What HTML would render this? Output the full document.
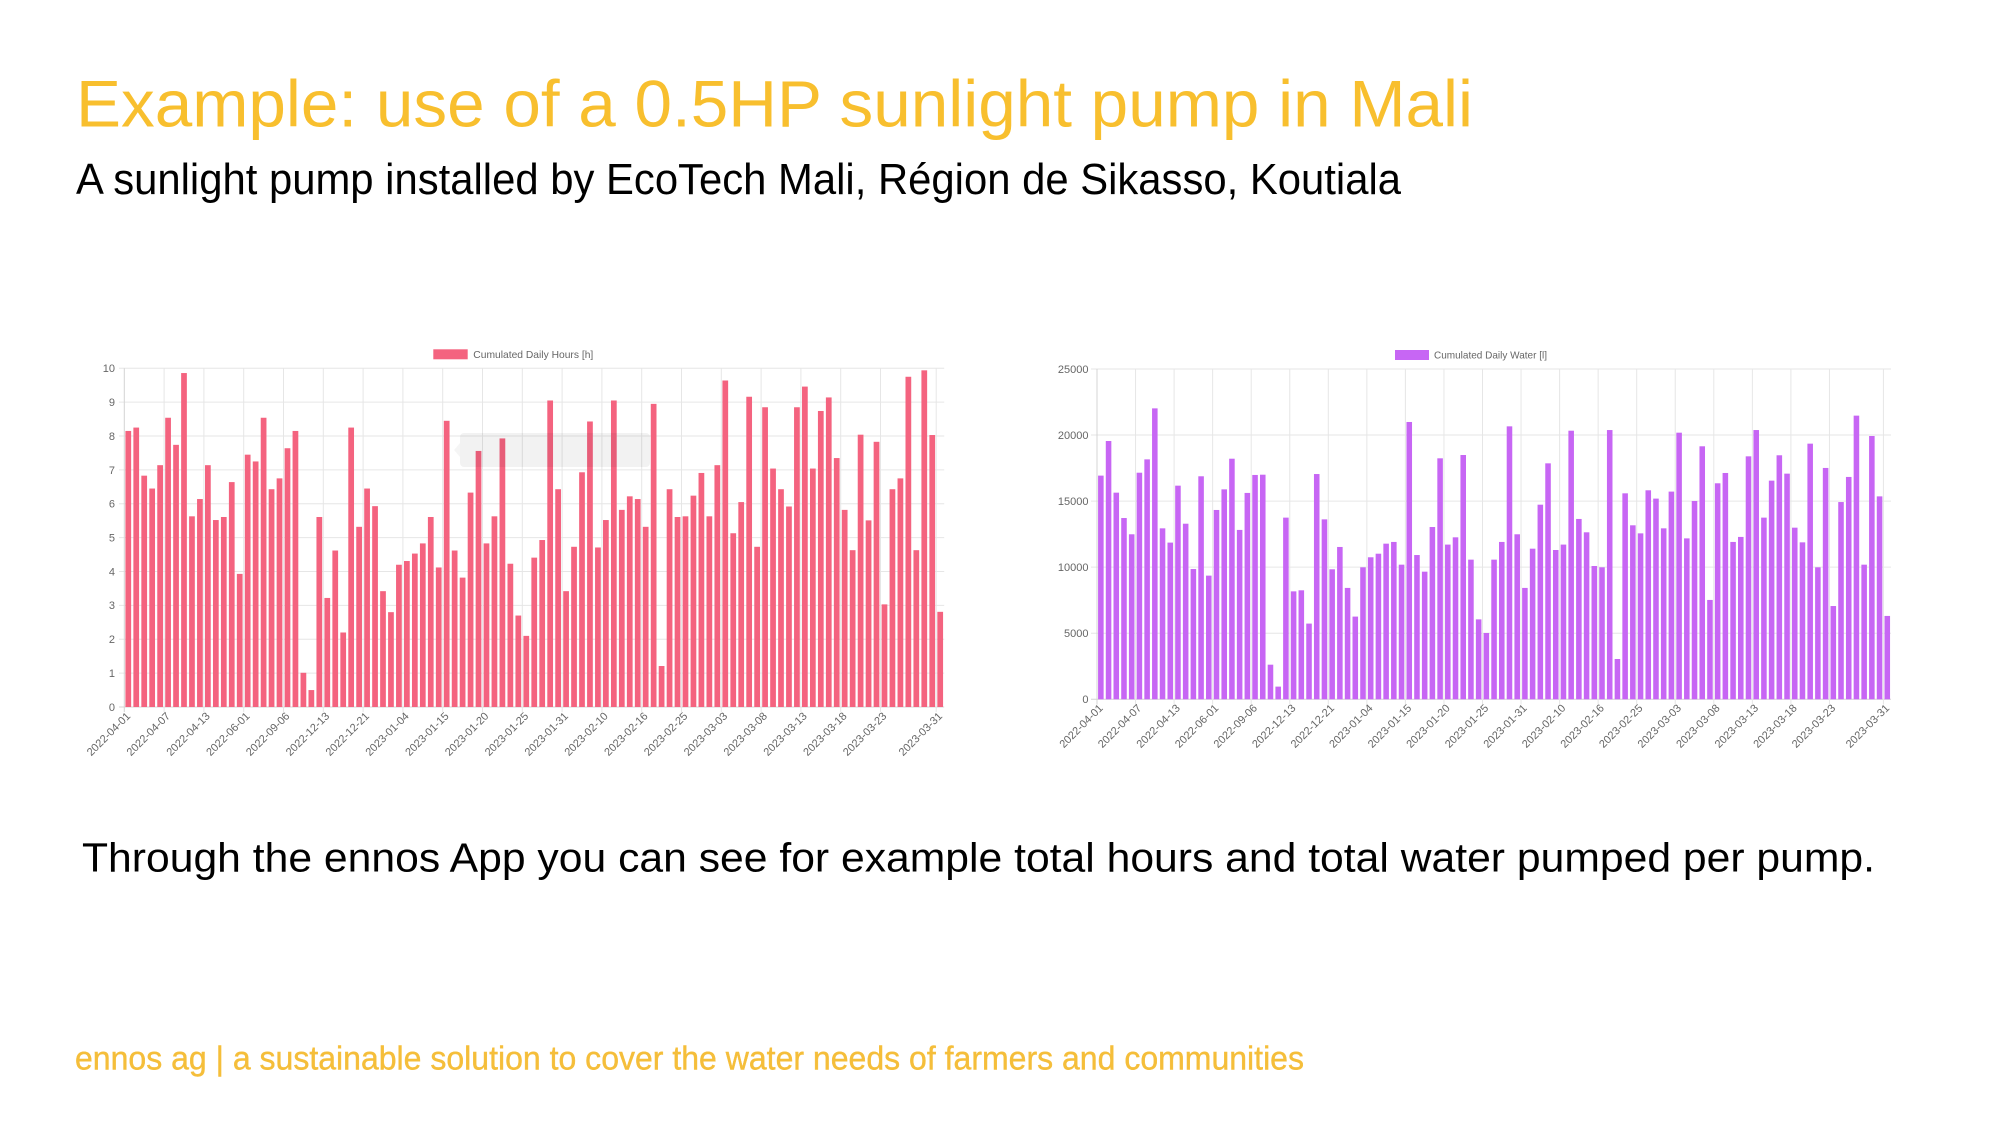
<!DOCTYPE html>
<html>
<head>
<meta charset="utf-8">
<style>
html,body{margin:0;padding:0;background:#fff;}
svg{display:block;}
text{font-family:"Liberation Sans",Arial,sans-serif;}
</style>
</head>
<body>
<svg width="2002" height="1125" viewBox="0 0 2002 1125" xmlns="http://www.w3.org/2000/svg">
<rect x="0" y="0" width="2002" height="1125" fill="#fff"/>

<!-- Titles -->
<text x="76" y="126.7" font-size="66" fill="#F8BF2E" textLength="1397" lengthAdjust="spacingAndGlyphs">Example: use of a 0.5HP sunlight pump in Mali</text>
<text x="76" y="194" font-size="44" fill="#000" textLength="1325" lengthAdjust="spacingAndGlyphs">A sunlight pump installed by EcoTech Mali, Région de Sikasso, Koutiala</text>
<text x="82" y="871.7" font-size="40.5" fill="#000" textLength="1793" lengthAdjust="spacingAndGlyphs">Through the ennos App you can see for example total hours and total water pumped per pump.</text>
<text x="75" y="1069.3" font-size="33" fill="#F5BE3A" stroke="#F5BE3A" stroke-width="0.4" textLength="1229" lengthAdjust="spacingAndGlyphs">ennos ag | a sustainable solution to cover the water needs of farmers and communities</text>

<!-- ================= CHART 1 ================= -->
<g stroke="#e6e6e6" stroke-width="1">
  <line x1="119" x2="944.2" y1="707" y2="707" stroke="#d4d4d4"/>
  <line x1="119" x2="944.2" y1="673.13" y2="673.13"/>
  <line x1="119" x2="944.2" y1="639.26" y2="639.26"/>
  <line x1="119" x2="944.2" y1="605.39" y2="605.39"/>
  <line x1="119" x2="944.2" y1="571.52" y2="571.52"/>
  <line x1="119" x2="944.2" y1="537.65" y2="537.65"/>
  <line x1="119" x2="944.2" y1="503.78" y2="503.78"/>
  <line x1="119" x2="944.2" y1="469.91" y2="469.91"/>
  <line x1="119" x2="944.2" y1="436.04" y2="436.04"/>
  <line x1="119" x2="944.2" y1="402.17" y2="402.17"/>
  <line x1="119" x2="944.2" y1="368.3" y2="368.3"/>
  <line x1="124.3" x2="124.3" y1="368.3" y2="712" stroke="#d4d4d4"/>
  <line x1="164.1" x2="164.1" y1="368.3" y2="712"/>
  <line x1="203.9" x2="203.9" y1="368.3" y2="712"/>
  <line x1="243.7" x2="243.7" y1="368.3" y2="712"/>
  <line x1="283.5" x2="283.5" y1="368.3" y2="712"/>
  <line x1="323.3" x2="323.3" y1="368.3" y2="712"/>
  <line x1="363.1" x2="363.1" y1="368.3" y2="712"/>
  <line x1="402.9" x2="402.9" y1="368.3" y2="712"/>
  <line x1="442.7" x2="442.7" y1="368.3" y2="712"/>
  <line x1="482.5" x2="482.5" y1="368.3" y2="712"/>
  <line x1="522.3" x2="522.3" y1="368.3" y2="712"/>
  <line x1="562.1" x2="562.1" y1="368.3" y2="712"/>
  <line x1="601.9" x2="601.9" y1="368.3" y2="712"/>
  <line x1="641.7" x2="641.7" y1="368.3" y2="712"/>
  <line x1="681.5" x2="681.5" y1="368.3" y2="712"/>
  <line x1="721.3" x2="721.3" y1="368.3" y2="712"/>
  <line x1="761.1" x2="761.1" y1="368.3" y2="712"/>
  <line x1="800.9" x2="800.9" y1="368.3" y2="712"/>
  <line x1="840.7" x2="840.7" y1="368.3" y2="712"/>
  <line x1="880.5" x2="880.5" y1="368.3" y2="712"/>
  <line x1="936.2" x2="936.2" y1="368.3" y2="712"/>
</g>

<g font-size="11" fill="#666" text-anchor="end">
  <text x="115" y="707" dy=".35em">0</text>
  <text x="115" y="673.13" dy=".35em">1</text>
  <text x="115" y="639.26" dy=".35em">2</text>
  <text x="115" y="605.39" dy=".35em">3</text>
  <text x="115" y="571.52" dy=".35em">4</text>
  <text x="115" y="537.65" dy=".35em">5</text>
  <text x="115" y="503.78" dy=".35em">6</text>
  <text x="115" y="469.91" dy=".35em">7</text>
  <text x="115" y="436.04" dy=".35em">8</text>
  <text x="115" y="402.17" dy=".35em">9</text>
  <text x="115" y="368.3" dy=".35em">10</text>
</g>

<g transform="translate(124.3,707) scale(7.96,-33.87)" fill="#F4637F">
<rect x="0.14" width=".72" height="8.15"/><rect x="1.14" width=".72" height="8.25"/><rect x="2.14" width=".72" height="6.83"/><rect x="3.14" width=".72" height="6.45"/><rect x="4.14" width=".72" height="7.14"/>
<rect x="5.14" width=".72" height="8.54"/><rect x="6.14" width=".72" height="7.74"/><rect x="7.14" width=".72" height="9.86"/><rect x="8.14" width=".72" height="5.63"/><rect x="9.14" width=".72" height="6.14"/>
<rect x="10.14" width=".72" height="7.14"/><rect x="11.14" width=".72" height="5.52"/><rect x="12.14" width=".72" height="5.61"/><rect x="13.14" width=".72" height="6.64"/><rect x="14.14" width=".72" height="3.93"/>
<rect x="15.14" width=".72" height="7.45"/><rect x="16.14" width=".72" height="7.25"/><rect x="17.14" width=".72" height="8.54"/><rect x="18.14" width=".72" height="6.43"/><rect x="19.14" width=".72" height="6.75"/>
<rect x="20.14" width=".72" height="7.64"/><rect x="21.14" width=".72" height="8.15"/><rect x="22.14" width=".72" height="1.01"/><rect x="23.14" width=".72" height="0.5"/><rect x="24.14" width=".72" height="5.61"/>
<rect x="25.14" width=".72" height="3.22"/><rect x="26.14" width=".72" height="4.62"/><rect x="27.14" width=".72" height="2.2"/><rect x="28.14" width=".72" height="8.25"/><rect x="29.14" width=".72" height="5.32"/>
<rect x="30.14" width=".72" height="6.45"/><rect x="31.14" width=".72" height="5.93"/><rect x="32.14" width=".72" height="3.42"/><rect x="33.14" width=".72" height="2.8"/><rect x="34.14" width=".72" height="4.2"/>
<rect x="35.14" width=".72" height="4.31"/><rect x="36.14" width=".72" height="4.53"/><rect x="37.14" width=".72" height="4.83"/><rect x="38.14" width=".72" height="5.61"/><rect x="39.14" width=".72" height="4.12"/>
<rect x="40.14" width=".72" height="8.45"/><rect x="41.14" width=".72" height="4.62"/><rect x="42.14" width=".72" height="3.82"/><rect x="43.14" width=".72" height="6.33"/><rect x="44.14" width=".72" height="7.56"/>
<rect x="45.14" width=".72" height="4.83"/><rect x="46.14" width=".72" height="5.63"/><rect x="47.14" width=".72" height="7.93"/><rect x="48.14" width=".72" height="4.23"/><rect x="49.14" width=".72" height="2.7"/>
<rect x="50.14" width=".72" height="2.1"/><rect x="51.14" width=".72" height="4.41"/><rect x="52.14" width=".72" height="4.93"/><rect x="53.14" width=".72" height="9.05"/><rect x="54.14" width=".72" height="6.43"/>
<rect x="55.14" width=".72" height="3.42"/><rect x="56.14" width=".72" height="4.73"/><rect x="57.14" width=".72" height="6.93"/><rect x="58.14" width=".72" height="8.43"/><rect x="59.14" width=".72" height="4.71"/>
<rect x="60.14" width=".72" height="5.52"/><rect x="61.14" width=".72" height="9.05"/><rect x="62.14" width=".72" height="5.82"/><rect x="63.14" width=".72" height="6.22"/><rect x="64.14" width=".72" height="6.14"/>
<rect x="65.14" width=".72" height="5.32"/><rect x="66.14" width=".72" height="8.95"/><rect x="67.14" width=".72" height="1.21"/><rect x="68.14" width=".72" height="6.43"/><rect x="69.14" width=".72" height="5.61"/>
<rect x="70.14" width=".72" height="5.63"/><rect x="71.14" width=".72" height="6.24"/><rect x="72.14" width=".72" height="6.91"/><rect x="73.14" width=".72" height="5.63"/><rect x="74.14" width=".72" height="7.14"/>
<rect x="75.14" width=".72" height="9.64"/><rect x="76.14" width=".72" height="5.13"/><rect x="77.14" width=".72" height="6.05"/><rect x="78.14" width=".72" height="9.16"/><rect x="79.14" width=".72" height="4.73"/>
<rect x="80.14" width=".72" height="8.85"/><rect x="81.14" width=".72" height="7.04"/><rect x="82.14" width=".72" height="6.43"/><rect x="83.14" width=".72" height="5.92"/><rect x="84.14" width=".72" height="8.85"/>
<rect x="85.14" width=".72" height="9.46"/><rect x="86.14" width=".72" height="7.04"/><rect x="87.14" width=".72" height="8.74"/><rect x="88.14" width=".72" height="9.14"/><rect x="89.14" width=".72" height="7.35"/>
<rect x="90.14" width=".72" height="5.82"/><rect x="91.14" width=".72" height="4.63"/><rect x="92.14" width=".72" height="8.04"/><rect x="93.14" width=".72" height="5.51"/><rect x="94.14" width=".72" height="7.83"/>
<rect x="95.14" width=".72" height="3.03"/><rect x="96.14" width=".72" height="6.43"/><rect x="97.14" width=".72" height="6.75"/><rect x="98.14" width=".72" height="9.75"/><rect x="99.14" width=".72" height="4.63"/>
<rect x="100.14" width=".72" height="9.94"/><rect x="101.14" width=".72" height="8.03"/><rect x="102.14" width=".72" height="2.81"/>
</g>

<!-- faded tooltip overlay -->
<rect x="460" y="433" width="190" height="34" rx="4" fill="rgba(0,0,0,0.05)"/>
<polygon points="460,443 454,450 460,457" fill="rgba(0,0,0,0.04)"/>

<g font-size="11" fill="#666" text-anchor="end">
  <text transform="translate(128.3,714) rotate(-45)" dy=".35em">2022-04-01</text>
  <text transform="translate(168.1,714) rotate(-45)" dy=".35em">2022-04-07</text>
  <text transform="translate(207.9,714) rotate(-45)" dy=".35em">2022-04-13</text>
  <text transform="translate(247.7,714) rotate(-45)" dy=".35em">2022-06-01</text>
  <text transform="translate(287.5,714) rotate(-45)" dy=".35em">2022-09-06</text>
  <text transform="translate(327.3,714) rotate(-45)" dy=".35em">2022-12-13</text>
  <text transform="translate(367.1,714) rotate(-45)" dy=".35em">2022-12-21</text>
  <text transform="translate(406.9,714) rotate(-45)" dy=".35em">2023-01-04</text>
  <text transform="translate(446.7,714) rotate(-45)" dy=".35em">2023-01-15</text>
  <text transform="translate(486.5,714) rotate(-45)" dy=".35em">2023-01-20</text>
  <text transform="translate(526.3,714) rotate(-45)" dy=".35em">2023-01-25</text>
  <text transform="translate(566.1,714) rotate(-45)" dy=".35em">2023-01-31</text>
  <text transform="translate(605.9,714) rotate(-45)" dy=".35em">2023-02-10</text>
  <text transform="translate(645.7,714) rotate(-45)" dy=".35em">2023-02-16</text>
  <text transform="translate(685.5,714) rotate(-45)" dy=".35em">2023-02-25</text>
  <text transform="translate(725.3,714) rotate(-45)" dy=".35em">2023-03-03</text>
  <text transform="translate(765.1,714) rotate(-45)" dy=".35em">2023-03-08</text>
  <text transform="translate(804.9,714) rotate(-45)" dy=".35em">2023-03-13</text>
  <text transform="translate(844.7,714) rotate(-45)" dy=".35em">2023-03-18</text>
  <text transform="translate(884.5,714) rotate(-45)" dy=".35em">2023-03-23</text>
  <text transform="translate(940.2,714) rotate(-45)" dy=".35em">2023-03-31</text>
</g>

<rect x="433.3" y="349.3" width="34.4" height="10" fill="#F4637F"/>
<text x="473.3" y="358" font-size="10.5" fill="#666" textLength="120" lengthAdjust="spacingAndGlyphs">Cumulated Daily Hours [h]</text>

<!-- ================= CHART 2 ================= -->
<g stroke="#e6e6e6" stroke-width="1">
  <line x1="1091" x2="1891" y1="699.3" y2="699.3" stroke="#d4d4d4"/>
  <line x1="1091" x2="1891" y1="633.24" y2="633.24"/>
  <line x1="1091" x2="1891" y1="567.18" y2="567.18"/>
  <line x1="1091" x2="1891" y1="501.12" y2="501.12"/>
  <line x1="1091" x2="1891" y1="435.06" y2="435.06"/>
  <line x1="1091" x2="1891" y1="369" y2="369"/>
  <line x1="1097" x2="1097" y1="369" y2="704.5" stroke="#d4d4d4"/>
  <line x1="1135.55" x2="1135.55" y1="369" y2="704.5"/>
  <line x1="1174.1" x2="1174.1" y1="369" y2="704.5"/>
  <line x1="1212.65" x2="1212.65" y1="369" y2="704.5"/>
  <line x1="1251.2" x2="1251.2" y1="369" y2="704.5"/>
  <line x1="1289.75" x2="1289.75" y1="369" y2="704.5"/>
  <line x1="1328.3" x2="1328.3" y1="369" y2="704.5"/>
  <line x1="1366.85" x2="1366.85" y1="369" y2="704.5"/>
  <line x1="1405.4" x2="1405.4" y1="369" y2="704.5"/>
  <line x1="1443.95" x2="1443.95" y1="369" y2="704.5"/>
  <line x1="1482.5" x2="1482.5" y1="369" y2="704.5"/>
  <line x1="1521.05" x2="1521.05" y1="369" y2="704.5"/>
  <line x1="1559.6" x2="1559.6" y1="369" y2="704.5"/>
  <line x1="1598.15" x2="1598.15" y1="369" y2="704.5"/>
  <line x1="1636.7" x2="1636.7" y1="369" y2="704.5"/>
  <line x1="1675.25" x2="1675.25" y1="369" y2="704.5"/>
  <line x1="1713.8" x2="1713.8" y1="369" y2="704.5"/>
  <line x1="1752.35" x2="1752.35" y1="369" y2="704.5"/>
  <line x1="1790.9" x2="1790.9" y1="369" y2="704.5"/>
  <line x1="1829.45" x2="1829.45" y1="369" y2="704.5"/>
  <line x1="1883.42" x2="1883.42" y1="369" y2="704.5"/>
</g>

<g font-size="11" fill="#666" text-anchor="end">
  <text x="1088.5" y="699.3" dy=".35em">0</text>
  <text x="1088.5" y="633.24" dy=".35em">5000</text>
  <text x="1088.5" y="567.18" dy=".35em">10000</text>
  <text x="1088.5" y="501.12" dy=".35em">15000</text>
  <text x="1088.5" y="435.06" dy=".35em">20000</text>
  <text x="1088.5" y="369" dy=".35em">25000</text>
</g>

<g transform="translate(1097,699.3) scale(7.71,-13.212)" fill="#C766F4">
<rect x="0.14" width=".72" height="16.93"/><rect x="1.14" width=".72" height="19.55"/><rect x="2.14" width=".72" height="15.64"/><rect x="3.14" width=".72" height="13.72"/><rect x="4.14" width=".72" height="12.49"/>
<rect x="5.14" width=".72" height="17.15"/><rect x="6.14" width=".72" height="18.16"/><rect x="7.14" width=".72" height="22.02"/><rect x="8.14" width=".72" height="12.94"/><rect x="9.14" width=".72" height="11.86"/>
<rect x="10.14" width=".72" height="16.17"/><rect x="11.14" width=".72" height="13.29"/><rect x="12.14" width=".72" height="9.86"/><rect x="13.14" width=".72" height="16.88"/><rect x="14.14" width=".72" height="9.36"/>
<rect x="15.14" width=".72" height="14.33"/><rect x="16.14" width=".72" height="15.89"/><rect x="17.14" width=".72" height="18.21"/><rect x="18.14" width=".72" height="12.82"/><rect x="19.14" width=".72" height="15.62"/>
<rect x="20.14" width=".72" height="16.98"/><rect x="21.14" width=".72" height="17.0"/><rect x="22.14" width=".72" height="2.62"/><rect x="23.14" width=".72" height="0.96"/><rect x="24.14" width=".72" height="13.75"/>
<rect x="25.14" width=".72" height="8.17"/><rect x="26.14" width=".72" height="8.25"/><rect x="27.14" width=".72" height="5.73"/><rect x="28.14" width=".72" height="17.05"/><rect x="29.14" width=".72" height="13.62"/>
<rect x="30.14" width=".72" height="9.84"/><rect x="31.14" width=".72" height="11.53"/><rect x="32.14" width=".72" height="8.43"/><rect x="33.14" width=".72" height="6.26"/><rect x="34.14" width=".72" height="9.99"/>
<rect x="35.14" width=".72" height="10.75"/><rect x="36.14" width=".72" height="11.02"/><rect x="37.14" width=".72" height="11.78"/><rect x="38.14" width=".72" height="11.91"/><rect x="39.14" width=".72" height="10.19"/>
<rect x="40.14" width=".72" height="20.99"/><rect x="41.14" width=".72" height="10.92"/><rect x="42.14" width=".72" height="9.66"/><rect x="43.14" width=".72" height="13.04"/><rect x="44.14" width=".72" height="18.24"/>
<rect x="45.14" width=".72" height="11.71"/><rect x="46.14" width=".72" height="12.26"/><rect x="47.14" width=".72" height="18.49"/><rect x="48.14" width=".72" height="10.57"/><rect x="49.14" width=".72" height="6.05"/>
<rect x="50.14" width=".72" height="5.02"/><rect x="51.14" width=".72" height="10.57"/><rect x="52.14" width=".72" height="11.91"/><rect x="53.14" width=".72" height="20.66"/><rect x="54.14" width=".72" height="12.49"/>
<rect x="55.14" width=".72" height="8.43"/><rect x="56.14" width=".72" height="11.40"/><rect x="57.14" width=".72" height="14.73"/><rect x="58.14" width=".72" height="17.86"/><rect x="59.14" width=".72" height="11.30"/>
<rect x="60.14" width=".72" height="11.71"/><rect x="61.14" width=".72" height="20.33"/><rect x="62.14" width=".72" height="13.65"/><rect x="63.14" width=".72" height="12.64"/><rect x="64.14" width=".72" height="10.09"/>
<rect x="65.14" width=".72" height="9.99"/><rect x="66.14" width=".72" height="20.38"/><rect x="67.14" width=".72" height="3.05"/><rect x="68.14" width=".72" height="15.59"/><rect x="69.14" width=".72" height="13.17"/>
<rect x="70.14" width=".72" height="12.56"/><rect x="71.14" width=".72" height="15.82"/><rect x="72.14" width=".72" height="15.19"/><rect x="73.14" width=".72" height="12.94"/><rect x="74.14" width=".72" height="15.72"/>
<rect x="75.14" width=".72" height="20.18"/><rect x="76.14" width=".72" height="12.18"/><rect x="77.14" width=".72" height="15.01"/><rect x="78.14" width=".72" height="19.15"/><rect x="79.14" width=".72" height="7.52"/>
<rect x="80.14" width=".72" height="16.35"/><rect x="81.14" width=".72" height="17.13"/><rect x="82.14" width=".72" height="11.91"/><rect x="83.14" width=".72" height="12.29"/><rect x="84.14" width=".72" height="18.39"/>
<rect x="85.14" width=".72" height="20.38"/><rect x="86.14" width=".72" height="13.75"/><rect x="87.14" width=".72" height="16.55"/><rect x="88.14" width=".72" height="18.47"/><rect x="89.14" width=".72" height="17.08"/>
<rect x="90.14" width=".72" height="12.99"/><rect x="91.14" width=".72" height="11.88"/><rect x="92.14" width=".72" height="19.35"/><rect x="93.14" width=".72" height="9.99"/><rect x="94.14" width=".72" height="17.51"/>
<rect x="95.14" width=".72" height="7.06"/><rect x="96.14" width=".72" height="14.93"/><rect x="97.14" width=".72" height="16.83"/><rect x="98.14" width=".72" height="21.47"/><rect x="99.14" width=".72" height="10.19"/>
<rect x="100.14" width=".72" height="19.93"/><rect x="101.14" width=".72" height="15.36"/><rect x="102.14" width=".72" height="6.31"/>
</g>

<g font-size="11" fill="#666" text-anchor="end">
  <text transform="translate(1100.9,706) rotate(-45)" dy=".35em">2022-04-01</text>
  <text transform="translate(1139.4,706) rotate(-45)" dy=".35em">2022-04-07</text>
  <text transform="translate(1178.0,706) rotate(-45)" dy=".35em">2022-04-13</text>
  <text transform="translate(1216.5,706) rotate(-45)" dy=".35em">2022-06-01</text>
  <text transform="translate(1255.1,706) rotate(-45)" dy=".35em">2022-09-06</text>
  <text transform="translate(1293.6,706) rotate(-45)" dy=".35em">2022-12-13</text>
  <text transform="translate(1332.2,706) rotate(-45)" dy=".35em">2022-12-21</text>
  <text transform="translate(1370.7,706) rotate(-45)" dy=".35em">2023-01-04</text>
  <text transform="translate(1409.3,706) rotate(-45)" dy=".35em">2023-01-15</text>
  <text transform="translate(1447.8,706) rotate(-45)" dy=".35em">2023-01-20</text>
  <text transform="translate(1486.4,706) rotate(-45)" dy=".35em">2023-01-25</text>
  <text transform="translate(1524.9,706) rotate(-45)" dy=".35em">2023-01-31</text>
  <text transform="translate(1563.5,706) rotate(-45)" dy=".35em">2023-02-10</text>
  <text transform="translate(1602.0,706) rotate(-45)" dy=".35em">2023-02-16</text>
  <text transform="translate(1640.6,706) rotate(-45)" dy=".35em">2023-02-25</text>
  <text transform="translate(1679.1,706) rotate(-45)" dy=".35em">2023-03-03</text>
  <text transform="translate(1717.7,706) rotate(-45)" dy=".35em">2023-03-08</text>
  <text transform="translate(1756.2,706) rotate(-45)" dy=".35em">2023-03-13</text>
  <text transform="translate(1794.8,706) rotate(-45)" dy=".35em">2023-03-18</text>
  <text transform="translate(1833.3,706) rotate(-45)" dy=".35em">2023-03-23</text>
  <text transform="translate(1887.3,706) rotate(-45)" dy=".35em">2023-03-31</text>
</g>

<rect x="1395" y="350" width="34" height="10" fill="#C766F4"/>
<text x="1434" y="358.7" font-size="10.5" fill="#666" textLength="113" lengthAdjust="spacingAndGlyphs">Cumulated Daily Water [l]</text>

</svg>
</body>
</html>
